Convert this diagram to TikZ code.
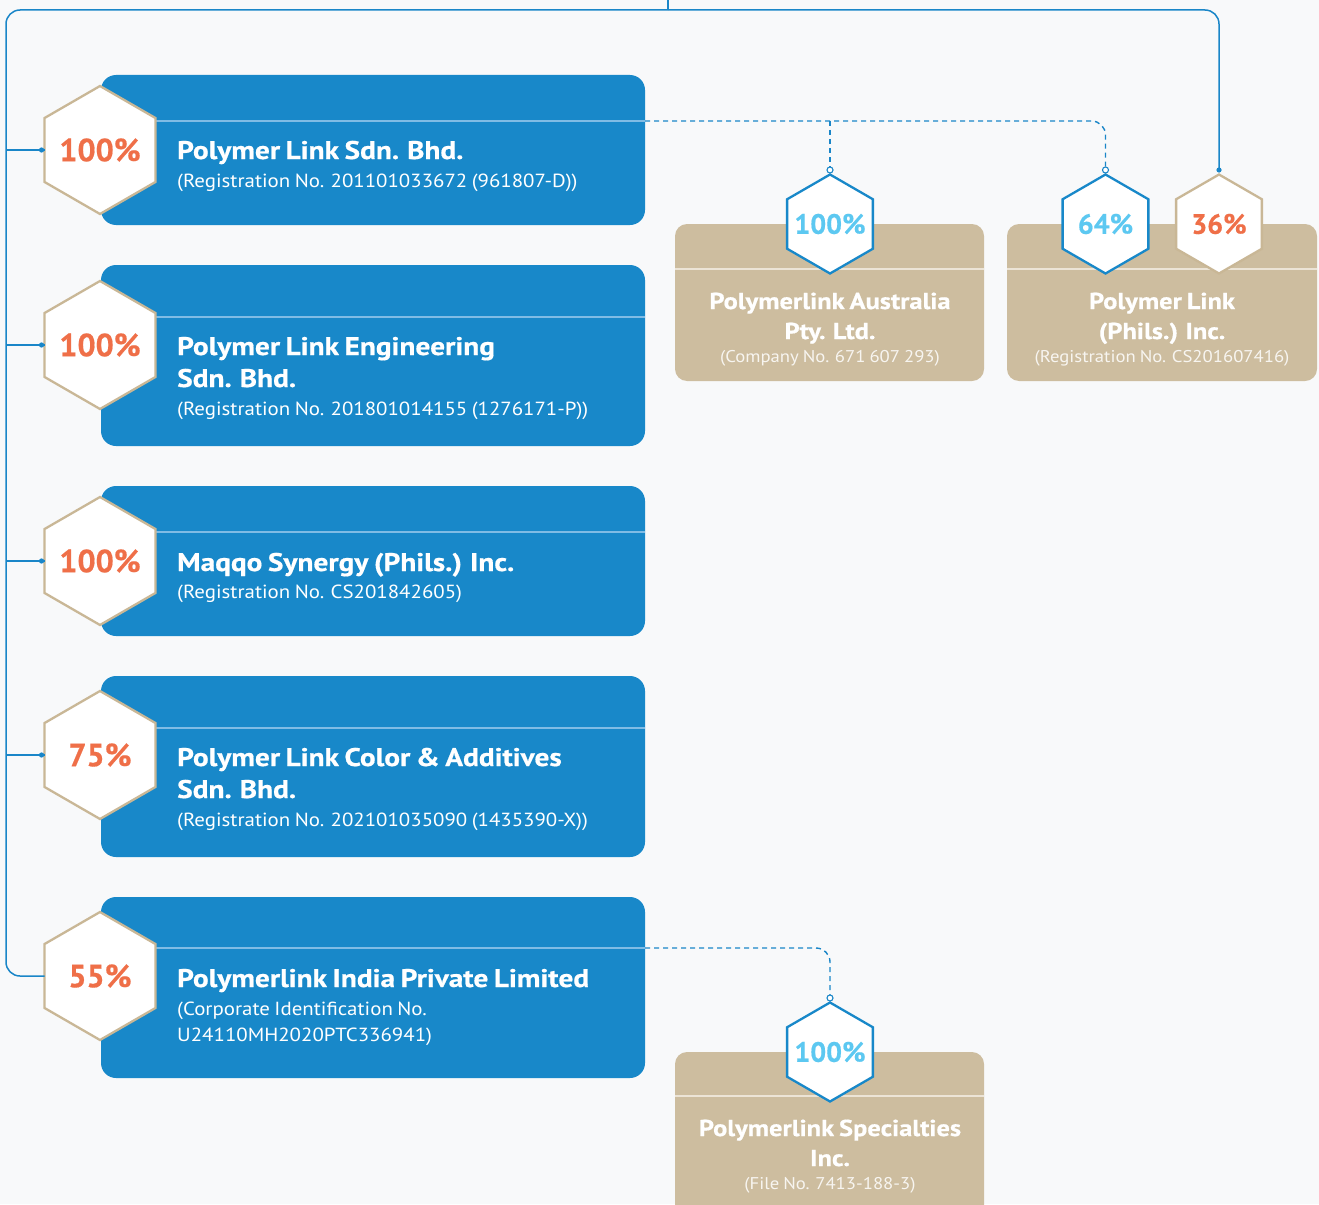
\documentclass[tikz,border=0pt]{standalone}
\usepackage{fontspec}
\setmainfont{PT Sans}
\newfontfamily\regfont{PT Sans}[FakeStretch=1.10, WordSpace=0.8]
\newfontfamily\titfont{PT Sans}[FakeStretch=1.15, WordSpace=0.75, BoldFeatures={FakeBold=0.6}]
\newfontfamily\pctfont{PT Sans}[BoldFeatures={FakeBold=0.5}]
\usetikzlibrary{shapes.geometric,calc}
\definecolor{bgc}{HTML}{F8F9FA}
\definecolor{pblue}{HTML}{1888C9}
\definecolor{lblue}{HTML}{5CC8F1}
\definecolor{porange}{HTML}{EF6F48}
\definecolor{ptan}{HTML}{CDBD9F}
\definecolor{htan}{HTML}{C9B796}
\definecolor{trunkc}{HTML}{1A86C8}
\definecolor{boxline}{HTML}{7FBCE5}
\definecolor{tanline}{HTML}{ECE4D6}
\newcommand{\pz}[1]{\makebox[0pt][c]{#1}}
\begin{document}
\begin{tikzpicture}[x=1pt,y=-1pt,
  bluebox/.style={fill=pblue, rounded corners=15pt, inner sep=0pt, outer sep=0pt, minimum width=544pt},
  tanbox/.style={fill=ptan, rounded corners=12pt, inner sep=0pt, outer sep=0pt, minimum height=157pt},
  hexbig/.style={regular polygon, regular polygon sides=6, shape border rotate=30, minimum size=128pt,
     inner sep=0pt, outer sep=0pt, fill=white, draw=htan, line width=2.3pt,
     text=porange, font=\pctfont\bfseries\fontsize{32}{36}\selectfont},
  hexsmall/.style={regular polygon, regular polygon sides=6, shape border rotate=30, minimum size=99pt,
     inner sep=0pt, outer sep=0pt, fill=white, draw=pblue, line width=2.3pt,
     text=lblue, font=\pctfont\bfseries\fontsize{28}{32}\selectfont},
  btitle/.style={anchor=base west, inner sep=0pt, text=white, font=\titfont\bfseries\fontsize{25.5}{30}\selectfont},
  breg/.style={anchor=base west, inner sep=0pt, text=white, font=\regfont\fontsize{19}{23}\selectfont},
  ttitle/.style={anchor=base, inner sep=0pt, text=white, font=\titfont\bfseries\fontsize{23}{27}\selectfont},
  treg/.style={anchor=base, inner sep=0pt, text=white, text opacity=0.85, font=\regfont\fontsize{17}{20}\selectfont},
  trunk/.style={draw=trunkc, line width=1.5pt},
  dashc/.style={draw=trunkc, line width=1.4pt, dash pattern=on 5pt off 4pt},
  inline/.style={draw=boxline, line width=1.2pt},
  tline/.style={draw=tanline, line width=1.2pt}
]
\clip (0,0) rectangle (1319,1204);
\fill[bgc] (0,0) rectangle (1319,1204);

% ---- blue boxes ----
\node[bluebox, minimum height=150pt] (b1) at (373,150) {};
\node[bluebox, minimum height=181pt] (b2) at (373,355.5) {};
\node[bluebox, minimum height=150pt] (b3) at (373,561) {};
\node[bluebox, minimum height=181pt] (b4) at (373,766.5) {};
\node[bluebox, minimum height=181pt] (b5) at (373,987.5) {};

\coordinate (l1) at ($(b1.north east)+(0,46)$);
\coordinate (l2) at ($(b2.north east)+(0,52)$);
\coordinate (l3) at ($(b3.north east)+(0,46)$);
\coordinate (l4) at ($(b4.north east)+(0,52)$);
\coordinate (l5) at ($(b5.north east)+(0,51)$);
\foreach \i in {1,...,5}{\draw[inline] (b\i.west |- l\i) -- (l\i);}

% ---- hexagons on blue boxes ----
\node[hexbig] (h1) at (100,150) {\pz{100\%}};
\node[hexbig] (h2) at (100,345) {\pz{100\%}};
\node[hexbig] (h3) at (100,561) {\pz{100\%}};
\node[hexbig] (h4) at (100,755) {\pz{75\%}};
\node[hexbig] (h5) at (100,976) {\pz{55\%}};

% ---- blue box texts ----
\node[btitle] (t1a) at (177,159) {Polymer Link Sdn. Bhd.};
\node[breg]   (t1b) at (177,187) {(Registration No. 201101033672 (961807-D))};
\node[btitle] (t2a) at (177,355) {Polymer Link Engineering};
\node[btitle] (t2b) at (177,387) {Sdn. Bhd.};
\node[breg]   (t2c) at (177,415) {(Registration No. 201801014155 (1276171-P))};
\node[btitle] (t3a) at (177,571) {Maqqo Synergy (Phils.) Inc.};
\node[breg]   (t3b) at (177,598) {(Registration No. CS201842605)};
\node[btitle] (t4a) at (177,766) {Polymer Link Color \& Additives};
\node[btitle] (t4b) at (177,798) {Sdn. Bhd.};
\node[breg]   (t4c) at (177,826) {(Registration No. 202101035090 (1435390-X))};
\node[btitle] (t5a) at (177,987) {Polymerlink India Private Limited};
\node[breg]   (t5b) at (177,1015) {(Corporate Identification No.};
\node[breg]   (t5c) at (177,1041) {U24110MH2020PTC336941)};

% ---- tan boxes ----
\node[tanbox, minimum width=309pt] (ta) at (829.5,302.5) {};
\node[tanbox, minimum width=310pt] (tp) at (1162,302.5) {};
\node[tanbox, minimum width=309pt, minimum height=178pt] (ts) at (829.5,1141) {};
\draw[tline] ($(ta.north west)+(0,45)$) -- ($(ta.north east)+(0,45)$);
\draw[tline] ($(tp.north west)+(0,45)$) -- ($(tp.north east)+(0,45)$);
\draw[tline] ($(ts.north west)+(0,44)$) -- ($(ts.north east)+(0,44)$);

\node[hexsmall] (ha) at (830,224) {\pz{100\%}};
\node[hexsmall] (h64) at (1105.5,224) {\pz{64\%}};
\node[hexsmall, draw=htan, text=porange] (h36) at (1219,224) {\pz{36\%}};
\node[hexsmall] (hs) at (830,1052) {\pz{100\%}};

\node[ttitle] (taa) at (830,309) {Polymerlink Australia};
\node[ttitle] (tab) at (830,339) {Pty. Ltd.};
\node[treg]   (tac) at (830,362) {(Company No. 671 607 293)};
\node[ttitle] (tpa) at (1162,309) {Polymer Link};
\node[ttitle] (tpb) at (1162,339) {(Phils.) Inc.};
\node[treg]   (tpc) at (1162,362) {(Registration No. CS201607416)};
\node[ttitle] (tsa) at (830,1136) {Polymerlink Specialties};
\node[ttitle] (tsb) at (830,1166) {Inc.};
\node[treg]   (tsc) at (830,1189) {(File No. 7413-188-3)};

% ---- trunk connectors ----
\coordinate (root) at (668,0);
\coordinate (tk) at (6,10);
\coordinate (d36) at ([yshift=4.5pt]h36.north);
\draw[trunk] (root) -- ($(root)+(0,10)$) coordinate (rj);
\draw[trunk, rounded corners=14pt] (rj) -| (h5.west -| tk) -- (h5.west);
\draw[trunk, rounded corners=14pt] (rj) -| (d36);
\fill[trunkc] (d36) circle (2.6pt);
\foreach \i in {1,...,4}{
  \draw[trunk] (h\i.west -| tk) -- (h\i.west);
  \fill[trunkc] ([xshift=-3pt]h\i.west) circle (2.6pt);
}

% ---- dashed connectors ----
\coordinate (da) at ([yshift=4.5pt]ha.north);
\coordinate (d64) at ([yshift=4.5pt]h64.north);
\coordinate (ds) at ([yshift=4.5pt]hs.north);
\draw[dashc, rounded corners=14pt] (l1) -| (d64);
\draw[dashc] (ha.north |- l1) -- (da);
\draw[dashc, rounded corners=14pt] (l5) -| (ds);
\foreach \c in {da,d64,ds}{\draw[trunkc, line width=1.1pt, fill=white] (\c) circle (3pt);}
\end{tikzpicture}
\end{document}
